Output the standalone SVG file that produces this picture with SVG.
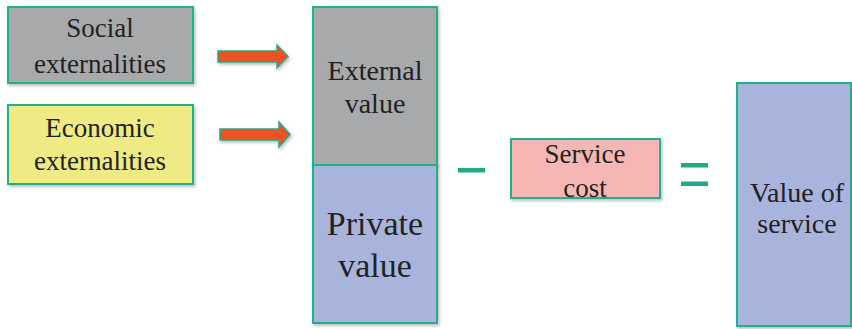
<svg xmlns="http://www.w3.org/2000/svg" width="852" height="329" viewBox="0 0 852 329">
  <defs>
    <filter id="sh" x="-10%" y="-10%" width="130%" height="130%">
      <feDropShadow dx="1.5" dy="2" stdDeviation="1.5" flood-color="#000" flood-opacity="0.25"/>
    </filter>
  </defs>
  <style>
    .box { stroke: #22b08c; stroke-width: 2; filter: url(#sh); }
    .t { fill: #222; text-anchor: middle; font-family: 'Liberation Serif', Tinos, 'Times New Roman', Times, 'Noto Serif', 'DejaVu Serif', FreeSerif, serif; }
    .arrow { fill: #ea5224; stroke: #2aa884; stroke-width: 1.5; stroke-linejoin: miter; filter: url(#sh); }
    .op { fill: #1faa86; }
  </style>
  <rect width="852" height="329" fill="#ffffff"/>

  <g id="social">
    <rect class="box" x="8" y="7" width="185" height="76" fill="#a7a9ab"/>
    <text class="t" x="100" y="37" font-size="27">Social</text>
    <text class="t" x="100" y="73" font-size="27">externalities</text>
  </g>

  <g id="economic">
    <rect class="box" x="8" y="105" width="185" height="79" fill="#eeea84"/>
    <text class="t" x="100" y="137" font-size="27">Economic</text>
    <text class="t" x="100" y="170" font-size="27">externalities</text>
  </g>

  <g id="external-value">
    <rect class="box" x="313" y="7" width="124" height="158" fill="#a7a9ab"/>
    <text class="t" x="375" y="80" font-size="28">External</text>
    <text class="t" x="375" y="113" font-size="28">value</text>
  </g>

  <g id="private-value">
    <rect class="box" x="313" y="165" width="124" height="158" fill="#a9b4dd"/>
    <text class="t" x="375" y="235" font-size="34">Private</text>
    <text class="t" x="375" y="277" font-size="34">value</text>
  </g>

  <g id="service-cost">
    <rect class="box" x="511" y="139" width="149" height="59" fill="#f4b7b3"/>
    <text class="t" x="585" y="163" font-size="27">Service</text>
    <text class="t" x="585" y="197" font-size="27">cost</text>
  </g>

  <g id="value-of-service">
    <rect class="box" x="737" y="83" width="114" height="243" fill="#a9b4dd"/>
    <text class="t" x="797" y="202" font-size="28">Value of</text>
    <text class="t" x="797" y="233" font-size="28">service</text>
  </g>

  <g id="connectors">
    <polygon class="arrow" points="218,51 277,51 277,45 288,56.5 277,68 277,62 218,62"/>
    <polygon class="arrow" points="220,129 279,129 279,122 290,134.5 279,147 279,140 220,140"/>
    <rect class="op" x="458" y="168" width="27" height="4.5"/>
    <rect class="op" x="681" y="163" width="27" height="4.5"/>
    <rect class="op" x="681" y="181.5" width="27" height="4.5"/>
  </g>
</svg>
